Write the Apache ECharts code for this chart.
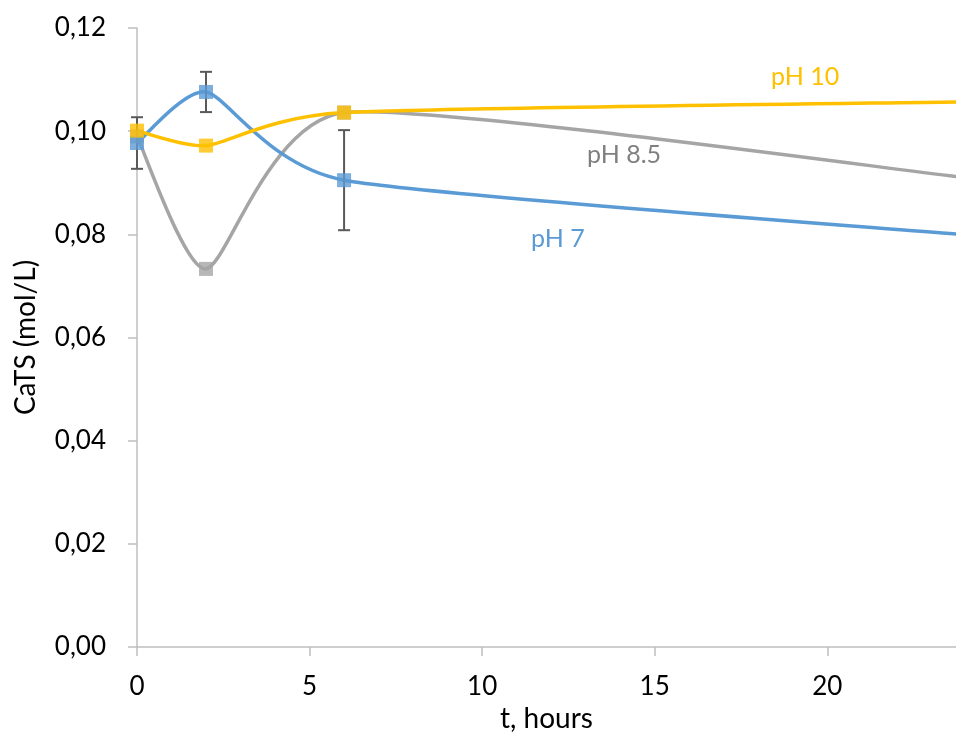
<!DOCTYPE html>
<html>
<head>
<meta charset="utf-8">
<script src="https://cdn.jsdelivr.net/npm/echarts@6/dist/echarts.min.js"></script>
<style>html,body{margin:0;padding:0;background:#fff}#c{width:956px;height:733px}</style>
</head>
<body>
<div id="c"></div>
<script>
// ---- data ----
var timeHours = [0, 2, 6, 24];
var pH7 = [0.0977, 0.1076, 0.0905, 0.0799];
var pH85 = [0.0990, 0.0733, 0.1036, 0.0910];
var pH10 = [0.1001, 0.0972, 0.1036, 0.1057];
var pH7Err = [0.0050, 0.0039, 0.0097];
var seriesNames = ['pH 7', 'pH 8.5', 'pH 10'];
var xTickValues = [0, 5, 10, 15, 20];
var yTickLabels = ['0,00', '0,02', '0,04', '0,06', '0,08', '0,10', '0,12'];

var colors = ['#5B9BD5', '#A5A5A5', '#FFC000'];
var labelColors = ['#5B9BD5', '#808080', '#FFC000'];
var FONT = 'Lato, "Open Sans", sans-serif';

var chart = echarts.init(document.getElementById('c'), null, {renderer: 'canvas'});

function pairs(ys) { return timeHours.map(function (t, i) { return [t, ys[i]]; }); }

// Spreadsheet-like smooth curve, control points computed in pixel space via api.coord
var TENSION = 0.1;
function curveSeries(name, ys, color) {
  return {
    name: name, type: 'custom', clip: true, z: 2,
    data: [[timeHours[0], ys[0]]],
    renderItem: function (params, api) {
      var p = timeHours.map(function (t, i) { return api.coord([t, ys[i]]); });
      var n = p.length;
      var d = 'M' + p[0][0] + ' ' + p[0][1];
      for (var i = 0; i < n - 1; i++) {
        var p0 = p[i > 0 ? i - 1 : i], p1 = p[i], p2 = p[i + 1], p3 = p[i + 2 < n ? i + 2 : i + 1];
        var c1 = [p1[0] + (p2[0] - p0[0]) * TENSION, p1[1] + (p2[1] - p0[1]) * TENSION];
        var c2 = [p2[0] - (p3[0] - p1[0]) * TENSION, p2[1] - (p3[1] - p1[1]) * TENSION];
        d += ' C' + c1[0] + ' ' + c1[1] + ' ' + c2[0] + ' ' + c2[1] + ' ' + p2[0] + ' ' + p2[1];
      }
      return {
        type: 'path',
        shape: {pathData: d},
        style: {fill: null, stroke: color, lineWidth: 3.5, lineCap: 'round'}
      };
    }
  };
}

function markerSeries(name, ys, color, z) {
  return {
    name: name, type: 'scatter', symbol: 'rect', symbolSize: 14, z: z,
    data: pairs(ys).slice(0, 3),
    itemStyle: {color: color},
    silent: true
  };
}

var errData = pH7Err.map(function (e, i) { return [timeHours[i], pH7[i] - e, pH7[i] + e]; });

var option = {
  animation: false,
  backgroundColor: '#ffffff',
  grid: {left: 137, top: 28, right: 0, bottom: 86, containLabel: false, outerBoundsMode: 'none'},
  xAxis: {
    type: 'value', min: 0, max: 23.73, interval: 5,
    name: 't, hours', nameLocation: 'middle', nameGap: 58,
    nameTextStyle: {fontFamily: FONT, fontSize: 28, color: '#000'},
    axisLine: {show: true, lineStyle: {color: '#BFBFBF', width: 1.5}},
    axisTick: {show: true, length: 9, customValues: xTickValues, lineStyle: {color: '#BFBFBF', width: 1.5}},
    axisLabel: {
      margin: 27, fontFamily: FONT, fontSize: 26, color: '#000', customValues: xTickValues,
      formatter: function (v) { return xTickValues.indexOf(v) >= 0 ? String(v) : ''; }
    },
    splitLine: {show: false}
  },
  yAxis: {
    type: 'value', min: 0, max: 0.12, interval: 0.02,
    name: 'CaTS (mol/L)', nameLocation: 'middle', nameGap: 97, nameRotate: 90,
    nameTextStyle: {fontFamily: FONT, fontSize: 28, color: '#000'},
    axisLine: {show: true, lineStyle: {color: '#BFBFBF', width: 1.5}},
    axisTick: {show: true, length: 9, lineStyle: {color: '#BFBFBF', width: 1.5}},
    axisLabel: {
      margin: 31, fontFamily: FONT, fontSize: 26, color: '#000',
      formatter: function (v) { return yTickLabels[Math.round(v / 0.02)]; }
    },
    splitLine: {show: false}
  },
  series: [
    curveSeries('pH 8.5 curve', pH85, colors[1]),
    curveSeries('pH 7 curve', pH7, colors[0]),
    curveSeries('pH 10 curve', pH10, colors[2]),
    {
      name: 'pH 7 error', type: 'custom', z: 3, data: errData,
      renderItem: function (params, api) {
        var x = api.value(0);
        var lo = api.coord([x, api.value(1)]);
        var hi = api.coord([x, api.value(2)]);
        var w = 6;
        var st = {stroke: '#595959', lineWidth: 2};
        return {
          type: 'group',
          children: [
            {type: 'line', shape: {x1: lo[0], y1: lo[1], x2: hi[0], y2: hi[1]}, style: st},
            {type: 'line', shape: {x1: lo[0] - w, y1: lo[1], x2: lo[0] + w, y2: lo[1]}, style: st},
            {type: 'line', shape: {x1: hi[0] - w, y1: hi[1], x2: hi[0] + w, y2: hi[1]}, style: st}
          ]
        };
      }
    },
    markerSeries('pH 8.5', pH85, colors[1], 4),
    markerSeries('pH 7', pH7, colors[0], 5),
    markerSeries('pH 10', pH10, colors[2], 6)
  ],
  graphic: [
    {type: 'text', x: 771, y: 77, style: {text: seriesNames[2], font: '25px ' + FONT, fill: labelColors[2], verticalAlign: 'middle'}},
    {type: 'text', x: 587, y: 155, style: {text: seriesNames[1], font: '25px ' + FONT, fill: labelColors[1], verticalAlign: 'middle'}},
    {type: 'text', x: 531, y: 239, style: {text: seriesNames[0], font: '25px ' + FONT, fill: labelColors[0], verticalAlign: 'middle'}}
  ]
};
chart.setOption(option);
</script>
</body>
</html>
